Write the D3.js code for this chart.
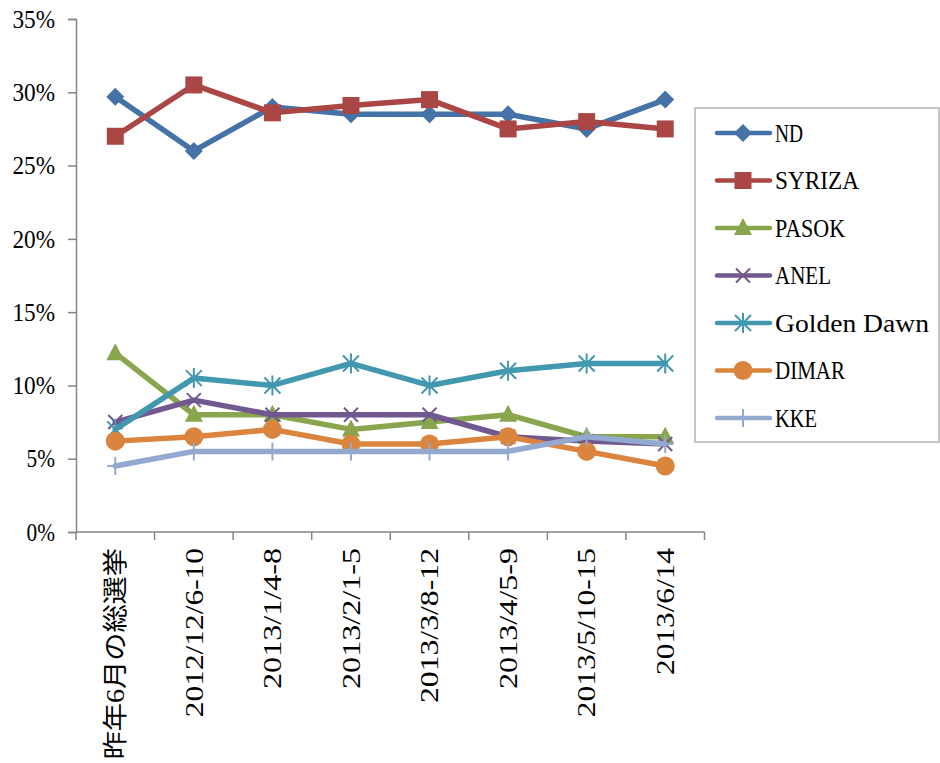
<!DOCTYPE html>
<html>
<head>
<meta charset="utf-8">
<script src="https://cdn.jsdelivr.net/npm/d3@7"></script>
<style>
  body { margin: 0; background: #fff; }
  text { font-family: "Liberation Serif", "Noto Sans CJK JP", serif; fill: #000; }
</style>
</head>
<body>
<div id="chart"></div>
<script>
// categories (poll dates)
const categories = ["昨年6月の総選挙", "2012/12/6-10", "2013/1/4-8", "2013/2/1-5",
    "2013/3/8-12", "2013/4/5-9", "2013/5/10-15", "2013/6/14"];

// values in percent
const nd         = [29.7, 26.0, 29.0, 28.5, 28.5, 28.5, 27.5, 29.5];
const syriza     = [27.0, 30.5, 28.6, 29.1, 29.5, 27.5, 28.0, 27.5];
const pasok      = [12.2, 8.0, 8.0, 7.0, 7.5, 8.0, 6.5, 6.5];
const anel       = [7.5, 9.0, 8.0, 8.0, 8.0, 6.5, 6.2, 6.0];
const goldenDawn = [7.0, 10.5, 10.0, 11.5, 10.0, 11.0, 11.5, 11.5];
const dimar      = [6.2, 6.5, 7.0, 6.0, 6.0, 6.5, 5.5, 4.5];
const kke        = [4.5, 5.5, 5.5, 5.5, 5.5, 5.5, 6.5, 6.0];

const yTicks = [0, 5, 10, 15, 20, 25, 30, 35];

const series = [
    {name: "ND", values: nd, color: "#4572A7", marker: "diamond"},
    {name: "SYRIZA", values: syriza, color: "#AA4643", marker: "square"},
    {name: "PASOK", values: pasok, color: "#89A54E", marker: "triangle"},
    {name: "ANEL", values: anel, color: "#71588F", marker: "x"},
    {name: "Golden Dawn", values: goldenDawn, color: "#4198AF", marker: "star"},
    {name: "DIMAR", values: dimar, color: "#DB843D", marker: "circle"},
    {name: "KKE", values: kke, color: "#93A9CF", marker: "plus"}
];

// canvas
const width = 940;
const height = 763;
const margin = {top: 19, right: 235, bottom: 231, left: 76};
const axisColor = "#868686";

const svg = d3.select("#chart").append("svg")
    .attr("width", width)
    .attr("height", height);

// half-width units: CJK glyphs count as two
function units(s) {
    let n = 0;
    for (const ch of s) n += ch.charCodeAt(0) > 0x2e80 ? 2 : 1;
    return n;
}

// scales
const xScale = d3.scaleBand()
    .domain(categories)
    .range([margin.left, width - margin.right - 0.5]);

const yScale = d3.scaleLinear()
    .domain([0, 35])
    .range([height - margin.bottom, margin.top]);

const cx = d => xScale(d) + xScale.bandwidth() / 2;

// axes
const yAxis = d3.axisLeft(yScale).tickValues(yTicks).tickSize(8).tickFormat("");
const yG = svg.append("g")
    .attr("transform", `translate(${margin.left}, 0)`)
    .call(yAxis);
yG.select(".domain").attr("stroke", axisColor).attr("stroke-width", 1.5);
yG.selectAll(".tick line").attr("stroke", axisColor).attr("stroke-width", 1.5);

svg.selectAll(".ylabel")
    .data(yTicks)
    .enter()
    .append("text")
    .attr("class", "ylabel")
    .attr("x", 55)
    .attr("y", d => yScale(d))
    .attr("dy", "0.35em")
    .attr("text-anchor", "end")
    .attr("font-size", 25)
    .attr("textLength", d => (d + "%").length * 14.2)
    .attr("lengthAdjust", "spacingAndGlyphs")
    .text(d => d + "%");

// x axis: ticks sit on the category boundaries
const boundaries = categories.map(c => xScale(c)).concat([xScale.range()[1]]);
svg.append("line")
    .attr("x1", margin.left).attr("x2", xScale.range()[1])
    .attr("y1", yScale(0)).attr("y2", yScale(0))
    .attr("stroke", axisColor).attr("stroke-width", 1.5);
svg.selectAll(".xtick")
    .data(boundaries)
    .enter()
    .append("line")
    .attr("class", "xtick")
    .attr("x1", d => d).attr("x2", d => d)
    .attr("y1", yScale(0)).attr("y2", yScale(0) + 8)
    .attr("stroke", axisColor).attr("stroke-width", 1.5);

svg.selectAll(".xlabel")
    .data(categories)
    .enter()
    .append("text")
    .attr("class", "xlabel")
    .attr("transform", d => `translate(${cx(d)}, 548) rotate(-90)`)
    .attr("dy", "0.35em")
    .attr("text-anchor", "end")
    .attr("font-size", 25)
    .attr("textLength", d => units(d) * 14.1)
    .attr("lengthAdjust", "spacingAndGlyphs")
    .text(d => d);

// marker shapes
function drawMarker(g, type, color) {
    if (type === "diamond") {
        g.append("path").attr("d", "M0,-9L9,0L0,9L-9,0Z").attr("fill", color);
    } else if (type === "square") {
        g.append("rect").attr("x", -8.5).attr("y", -8.5).attr("width", 17).attr("height", 17).attr("fill", color);
    } else if (type === "triangle") {
        g.append("path").attr("d", "M0,-10L9,7L-9,7Z").attr("fill", color);
    } else if (type === "x") {
        g.append("path").attr("d", "M-7,-7L7,7M-7,7L7,-7").attr("stroke", color).attr("stroke-width", 2);
    } else if (type === "star") {
        g.append("path").attr("d", "M-8,-8L8,8M-8,8L8,-8M0,-10L0,10").attr("stroke", color).attr("stroke-width", 2);
    } else if (type === "circle") {
        g.append("circle").attr("r", 9.5).attr("fill", color);
    } else if (type === "plus") {
        g.append("path").attr("d", "M0,-9L0,9M-8,0L8,0").attr("stroke", color).attr("stroke-width", 2);
    }
}

// lines + markers, series in order
const line = d3.line()
    .x((d, i) => cx(categories[i]))
    .y(d => yScale(d));

series.forEach(s => {
    const g = svg.append("g");
    g.append("path")
        .attr("d", line(s.values))
        .attr("fill", "none")
        .attr("stroke", s.color)
        .attr("stroke-width", 5.5)
        .attr("stroke-linejoin", "round")
        .attr("stroke-linecap", "round");
    s.values.forEach((v, i) => {
        const m = g.append("g").attr("transform", `translate(${cx(categories[i])}, ${yScale(v)})`);
        drawMarker(m, s.marker, s.color);
    });
});

// legend
const legend = svg.append("g");
legend.append("rect")
    .attr("x", 695).attr("y", 108)
    .attr("width", 244).attr("height", 334)
    .attr("fill", "white")
    .attr("stroke", "#b3b3b3")
    .attr("stroke-width", 1.5);

const item = legend.selectAll(".item")
    .data(series)
    .enter()
    .append("g")
    .attr("class", "item")
    .attr("transform", (d, i) => `translate(0, ${133 + i * 47.5})`);

item.append("line")
    .attr("x1", 717).attr("x2", 770)
    .attr("stroke", d => d.color)
    .attr("stroke-width", 4.5)
    .attr("stroke-linecap", "round");
item.each(function (d) {
    const m = d3.select(this).append("g").attr("transform", "translate(743, 0)");
    drawMarker(m, d.marker, d.color);
});
item.append("text")
    .attr("x", 775)
    .attr("dy", "0.35em")
    .attr("font-size", 25)
    .attr("textLength", d => units(d.name) * 14)
    .attr("lengthAdjust", "spacingAndGlyphs")
    .text(d => d.name);
</script>
</body>
</html>
